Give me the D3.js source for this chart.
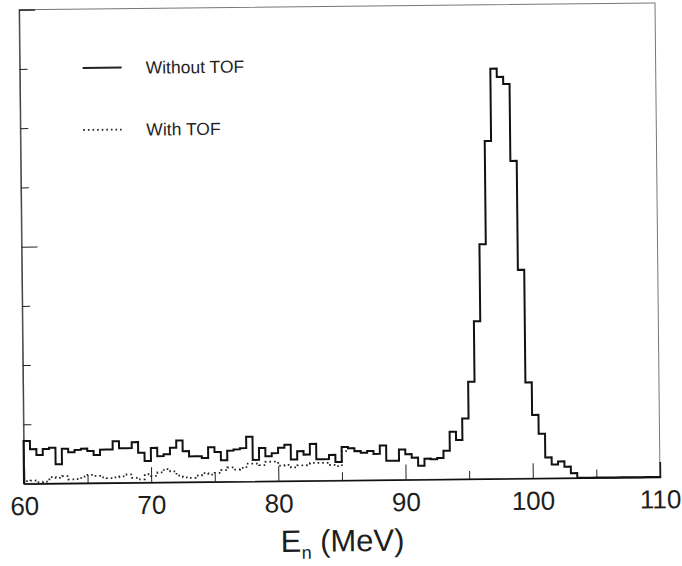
<html>
<head>
<script src="https://d3js.org/d3.v7.min.js"></script>
<style>
  body { margin: 0; background: #fff; }
  text { font-family: "Liberation Sans", Arial, sans-serif; fill: #1e1e1e; }
</style>
</head>
<body>
<svg width="682" height="566"></svg>
<script>
// neutron energy bins, 0.5 MeV wide (lower edges)
var binLow = d3.range(60, 110, 0.5);

// counts per bin
var withoutTOF = [
  36, 29, 24, 29, 30, 16, 29, 26, 28, 29,
  27, 23.5, 28, 28, 35, 29, 29, 34, 25, 18,
  29, 22, 23.5, 29, 35, 26, 21.5, 21.5, 20, 29,
  25, 18, 26, 27, 28, 37.5, 18, 28, 21, 23.5,
  28, 30.5, 18, 25, 22, 31, 18, 18, 21.5, 15.5,
  28, 27, 24.5, 23, 24.5, 22, 29, 16, 16, 25.5,
  21.5, 18.5, 11.5, 17.5, 17, 18, 24, 40, 33, 51,
  82, 133, 198, 285, 346, 339, 333, 268, 176, 81,
  53.5, 37.5, 17.5, 11.5, 14, 9.5, 4, 0, 0, 0,
  0, 0, 0, 0, 0, 0, 0, 0, 0, 0
];
var withTOF = [
  2, 2.5, 1, 1.5, 5.3, 4.5, 5.9, 3.1, 3.4, 5.3,
  6.8, 5.9, 4.5, 3.9, 4.5, 5.3, 6.8, 3.9, 2.5, 6.8,
  5.3, 8.2, 11, 9, 5.3, 3.9, 3.4, 5.3, 7.3, 5.9,
  7.3, 9.6, 11.8, 10, 11.3, 14.9, 14.9, 13.5, 16.3, 16.3,
  12.9, 13.5, 11.3, 13, 13, 14.9, 14.9, 14.9, 13, 12,
  24.5, 27
];

var xMajor = [60, 70, 80, 90, 100, 110];
var xMinor = [65, 75, 85, 95, 105];
var yMajor = [0, 200, 400];
var yMinor = [50, 100, 150, 250, 300, 350];
var legendLabels = ["Without TOF", "With TOF"];

const W = 636, H = 474
const ml = 21.5, mt = 6.3

var x = d3.scaleLinear().domain([60, 110]).range([0, W]);
var y = d3.scaleLinear().domain([0, 400]).range([H, 0]);

var svg = d3.select("svg")
// the scanned page is turned a little
var page = svg.append("g").attr("transform", "rotate(-0.6, 339.5, 243.3)")
var g = page.append("g").attr("transform", "translate(" + ml + "," + mt + ")")

// frame
g.append("rect")
  .attr("width", W).attr("height", H)
  .attr("fill", "none").attr("stroke", "#777").attr("stroke-width", 1)

// x axis: long ticks at 10, short at 5, pointing inward
var xAxis = g.append("g").attr("transform", "translate(0," + H + ")")
  .call(d3.axisBottom(x).tickValues(xMajor).tickSize(-15).tickPadding(13).tickFormat(d3.format("d")))
xAxis.select(".domain").attr("stroke", "#111").attr("stroke-width", 1.6)
xAxis.selectAll("text").style("font-size", "26px").attr("fill", "#2a2a2a")
xAxis.selectAll("line").attr("stroke", "#222")
g.append("g").attr("transform", "translate(0," + H + ")")
  .call(d3.axisBottom(x).tickValues(xMinor).tickSize(-8).tickFormat(""))
  .call(s => s.select(".domain").remove())
  .selectAll("line").attr("stroke", "#222")

// y axis: no labels
var yAxis = g.append("g")
  .call(d3.axisLeft(y).tickValues(yMajor).tickSize(-16).tickFormat(""))
yAxis.select(".domain").attr("stroke", "#444").attr("stroke-width", 1.2)
yAxis.selectAll("line").attr("stroke", "#222")
g.append("g")
  .call(d3.axisLeft(y).tickValues(yMinor).tickSize(-8).tickFormat(""))
  .call(s => s.select(".domain").remove())
  .selectAll("line").attr("stroke", "#222")

function stepPoints(vals) {
  var pts = [[60, 0]]
  vals.forEach(function(v, i) { pts.push([binLow[i], v]) })
  pts.push([binLow[vals.length - 1] + 0.5, vals[vals.length - 1]])
  return pts
}
var line = d3.line().curve(d3.curveStepAfter)
  .x(function(d) { return x(d[0]) })
  .y(function(d) { return y(d[1]) })

g.append("path")
  .attr("d", line(stepPoints(withTOF)))
  .attr("fill", "none").attr("stroke", "#222")
  .attr("stroke-width", 1.8).attr("stroke-dasharray", "1.6,3")

g.append("path")
  .attr("d", line(stepPoints(withoutTOF)))
  .attr("fill", "none").attr("stroke", "#111")
  .attr("stroke-width", 2)

// legend
var leg = g.append("g")
leg.selectAll("line").data(legendLabels).enter().append("line")
  .attr("x1", 63).attr("x2", 102)
  .attr("y1", function(d, i) { return 59 + i * 62 })
  .attr("y2", function(d, i) { return 59 + i * 62 })
  .attr("stroke", "#222")
  .attr("stroke-width", function(d, i) { return i ? 1.8 : 2 })
  .attr("stroke-dasharray", function(d, i) { return i ? "1.6,3" : null })
leg.selectAll("text").data(legendLabels).enter().append("text")
  .attr("x", 126)
  .attr("y", function(d, i) { return 59 + i * 62 })
  .attr("dy", "0.36em")
  .style("font-size", "17.5px")
  .text(function(d) { return d })

// axis title
var title = g.append("text")
  .attr("x", x(85)).attr("y", H + 71)
  .attr("text-anchor", "middle")
  .style("font-size", "31px")
title.append("tspan").text("E")
title.append("tspan").attr("dy", 7).style("font-size", "18px").text("n")
title.append("tspan").attr("dy", -7).text(" (MeV)")
</script>
</body>
</html>
